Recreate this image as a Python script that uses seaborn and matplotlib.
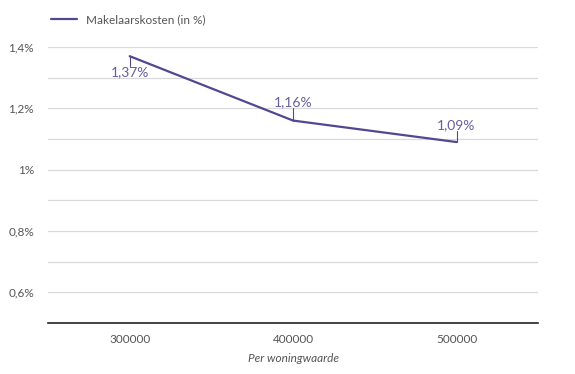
import pandas as pd
import numpy as np
import matplotlib.pyplot as plt
import seaborn as sns

# Data
woningwaarde = ["300000", "400000", "500000"]
kosten = [1.37, 1.16, 1.09]
label_teksten = ["1,37%", "1,16%", "1,09%"]
y_ticks = [0.6, 0.8, 1.0, 1.2, 1.4]
y_tick_labels = ["0,6%", "0,8%", "1%", "1,2%", "1,4%"]

df = pd.DataFrame({"Per woningwaarde": woningwaarde, "Makelaarskosten (in %)": kosten})

sns.set_style("white")
plt.rcParams["font.family"] = ["Lato", "DejaVu Sans"]

paars = "#55468f"
grijs = "#555555"

fig = plt.figure(figsize=(5.75, 3.74), dpi=100)
ax = fig.add_axes([0.0835, 0.1364, 0.8525, 0.738])

sns.lineplot(data=df, x="Per woningwaarde", y="Makelaarskosten (in %)", ax=ax,
             color=paars, linewidth=1.6, label="Makelaarskosten (in %)", sort=False)

ax.set_xlim(-0.5, len(woningwaarde) - 0.5)
ax.set_ylim(0.5, 1.4)

# grid every 0.1, labels only on the even ones
grid_y = np.round(np.arange(5, 15) / 10, 1)
ax.set_yticks(grid_y)
ax.set_yticklabels([y_tick_labels[y_ticks.index(t)] if t in y_ticks else "" for t in grid_y])
ax.yaxis.grid(True, color="#d9d9d9", linewidth=0.9)
ax.set_axisbelow(True)
ax.tick_params(axis="y", length=0, pad=10, labelsize=8.5, labelcolor=grijs)
ax.tick_params(axis="x", length=0, pad=8, labelsize=8.5, labelcolor=grijs)
for s in ["top", "right", "left"]:
    ax.spines[s].set_visible(False)
ax.spines["bottom"].set_color("#222222")
ax.spines["bottom"].set_linewidth(1.2)

ax.set_xlabel("Per woningwaarde", fontsize=8.5, style="italic", color=grijs, labelpad=6)
ax.set_ylabel("")

# data labels with small leader lines
offsets = [-0.035, 0.045, 0.04]
for i, (v, t) in enumerate(zip(kosten, label_teksten)):
    d = offsets[i]
    ax.plot([i, i], [v, v + d * 0.9], color=paars, linewidth=0.8)
    va = "top" if d < 0 else "bottom"
    ax.text(i, v + d * 0.9, t, ha="center", va=va, fontsize=10, color="#6a5d9e")

ax.legend_.remove()
h, l = ax.get_legend_handles_labels()
fig.legend(h[:1], l[:1], loc="upper left", bbox_to_anchor=(0.07, 0.99), frameon=False,
           fontsize=8.5, handlelength=2.2, labelcolor=grijs)

plt.savefig("out.png", dpi=100)
